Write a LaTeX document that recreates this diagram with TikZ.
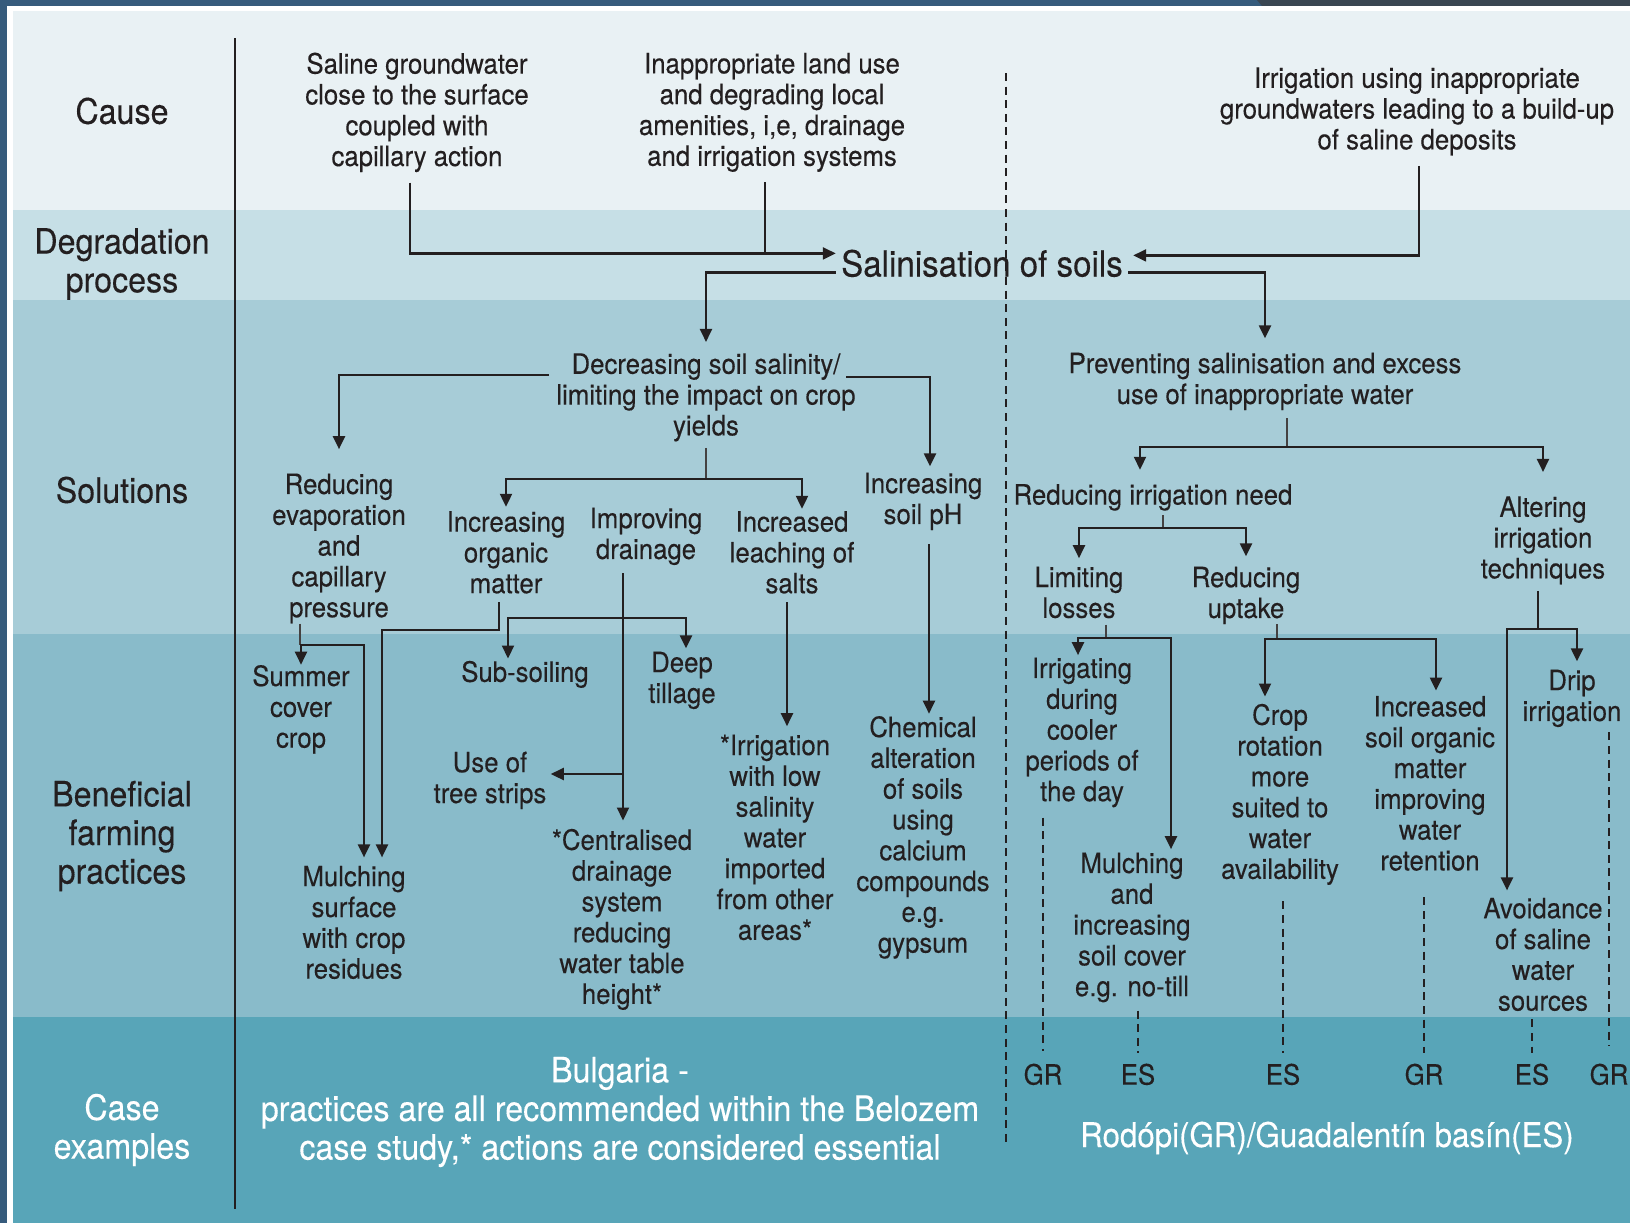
\documentclass[tikz,border=0pt]{standalone}
\usepackage{fontspec}
\setmainfont[FakeStretch=0.92,FakeBold=0.25]{TeX Gyre Heros}
\usetikzlibrary{arrows.meta}
\definecolor{ink}{HTML}{231F20}
\definecolor{frame}{HTML}{365B7C}
\definecolor{frametex}{HTML}{3A4652}
\definecolor{bandA}{HTML}{E9F1F4}
\definecolor{bandB}{HTML}{C6DFE6}
\definecolor{bandC}{HTML}{A7CCD7}
\definecolor{bandD}{HTML}{89BBCA}
\definecolor{bandE}{HTML}{58A5B8}
\newcommand\fbody{\fontsize{14pt}{15.4pt}\selectfont}
\newcommand\flab{\fontsize{17.5pt}{19.3pt}\selectfont}
\newcommand\fsal{\fontsize{18pt}{20pt}\selectfont}
\newcommand\freg{\fontsize{17pt}{19pt}\selectfont}

\begin{document}
\begin{tikzpicture}[x=0.5pt,y=-0.5pt,
  txt/.style={font=\fbody, align=center, inner sep=0pt, text=ink, yshift=-1.2pt},
  lab/.style={font=\flab, align=center, inner sep=0pt, text=ink, yshift=-2.5pt},
  ln/.style={draw=ink, line width=1.1pt},
  stub/.style={draw=ink!85, line width=0.75pt},
  arr/.style={ln, -{Triangle[length=6.5pt,width=6pt]}},
  dsh/.style={draw=ink, line width=0.8pt, dash pattern=on 4pt off 2.8pt}]

\useasboundingbox (0,0) rectangle (1630,1223);

% frame and horizontal bands
\fill[frame] (0,0) rectangle (1630,1223);
\fill[frametex] (1257,0) -- (1630,0) -- (1630,6) -- (1262,6) -- cycle;
\fill[white] (7,6) rectangle (1630,1223);
\fill[bandA] (13,11) rectangle (1630,210);
\fill[bandB] (13,210) rectangle (1630,300);
\fill[bandC] (13,300) rectangle (1630,634);
\fill[bandD] (13,634) rectangle (1630,1017);
\fill[bandE] (13,1017) rectangle (1630,1223);

% dividers
\draw[ink, line width=1pt] (235,38) -- (235,1209);
\draw[dsh] (1006,73) -- (1006,1143);

% row labels
\node[lab, yshift=3pt] (cause) at (122,112) {Cause};
\node[lab] (degr) at (122,259) {Degradation\\process};
\node[lab, yshift=3pt] (solu) at (122,491) {Solutions};
\node[lab] (bene) at (122,831) {Beneficial\\farming\\practices};
\node[lab, text=white] (casex) at (122,1125) {Case\\examples};

% causes
\node[txt] (c1) at (417,110) {Saline groundwater\\close to the surface\\coupled with\\capillary action};
\node[txt] (c2) at (772,110) {Inappropriate land use\\and degrading local\\amenities, i,e, drainage\\and irrigation systems};
\node[txt] (c3) at (1417,109) {Irrigation using inappropriate\\groundwaters leading to a build-up\\of saline deposits};

% degradation process
\node[txt, font=\fsal] (sal) at (982,261) {Salinisation of soils};

% solutions
\node[txt] (dec) at (706,395) {Decreasing soil salinity/\\limiting the impact on crop\\yields};
\node[txt] (red) at (339,546) {Reducing\\evaporation\\and\\capillary\\pressure};
\node[txt] (incorg) at (506,550) {Increasing\\organic\\matter};
\node[txt] (impdr) at (646,534) {Improving\\drainage};
\node[txt] (incl) at (792,550) {Increased\\leaching of\\salts};
\node[txt] (incph) at (923,499) {Increasing\\soil pH};
\node[txt] (prev) at (1265,379) {Preventing salinisation and excess\\use of inappropriate water};
\node[txt] (rin) at (1153,495) {Reducing irrigation need};
\node[txt] (alt) at (1543,538) {Altering\\irrigation\\techniques};
\node[txt] (lim) at (1079,590) {Limiting\\losses};
\node[txt] (rup) at (1246,593) {Reducing\\uptake};

% beneficial farming practices
\node[txt] (summer) at (301,707) {Summer\\cover\\crop};
\node[txt] (mulch1) at (354,920) {Mulching\\surface\\with crop\\residues};
\node[txt] (subs) at (525,672) {Sub-soiling};
\node[txt] (deep) at (682,678) {Deep\\tillage};
\node[txt] (tree) at (490,778) {Use of\\tree strips};
\node[txt] (cent) at (622,917) {*Centralised\\drainage\\system\\reducing\\water table\\height*};
\node[txt] (irr) at (775,835) {*Irrigation\\with low\\salinity\\water\\imported\\from other\\areas*};
\node[txt] (chem) at (923,835) {Chemical\\alteration\\of soils\\using\\calcium\\compounds\\e.g.\\gypsum};
\node[txt] (irrg) at (1082,730) {Irrigating\\during\\cooler\\periods of\\the day};
\node[txt] (mulch2) at (1132,925) {Mulching\\and\\increasing\\soil cover\\e.g. no-till};
\node[txt] (crop) at (1280,792) {Crop\\rotation\\more\\suited to\\water\\availability};
\node[txt] (incsoil) at (1430,781) {Increased\\soil organic\\matter\\improving\\water\\retention};
\node[txt] (drip) at (1572,696) {Drip\\irrigation};
\node[txt] (avoid) at (1543,952) {Avoidance\\of saline\\water\\sources};

% case examples
\node[txt] (gr1) at (1043,1072) {GR};
\node[txt] (es1) at (1138,1072) {ES};
\node[txt] (es2) at (1283,1072) {ES};
\node[txt] (gr2) at (1424,1072) {GR};
\node[txt] (es3) at (1532,1072) {ES};
\node[txt] (gr3) at (1609,1072) {GR};
\node[lab, text=white] (bul) at (620,1107) {Bulgaria -\\practices are all recommended within the Belozem\\case study,* actions are considered essential};
\node[lab, font=\freg, text=white, yshift=2pt] (rod) at (1327,1137) {Rodópi(GR)/Guadalentín basín(ES)};

% causes -> salinisation
\path ([yshift=5pt]sal.west) coordinate (salW);
\draw[arr, shorten <=5pt, shorten >=2.5pt] ([xshift=-3.5pt]c1.south) |- (salW);
\draw[ln, shorten <=5pt] ([xshift=-3.5pt]c2.south) -- ([xshift=-3.5pt]c2.south |- salW);
\draw[arr, shorten <=5pt, shorten >=5pt] ([xshift=1pt]c3.south) |- ([yshift=4pt]sal.east);

% salinisation -> solution groups
\draw[arr, shorten >=5.5pt] ([xshift=-2.5pt,yshift=-4.5pt]sal.west) -| (dec.north);
\draw[arr, shorten >=7pt] ([xshift=2.5pt,yshift=-4.5pt]sal.east) -| (prev.north);

% decreasing salinity branch
\coordinate (decL) at (549,375);
\coordinate (decR) at (846,377);
\draw[arr, shorten >=12pt] (decL) -| (red.north);
\draw[arr, shorten >=3pt] (decR) -| ([xshift=3.5pt]incph.north);
\coordinate (dJ) at (dec.south |- 0,479);
\draw[stub, shorten <=3pt] (dec.south) -- (dJ);
\draw[arr, shorten >=2pt] (dJ) -| (incorg.north);
\draw[arr, shorten >=1pt] (dJ) -| ([xshift=5pt]incl.north);

% preventing salinisation branch
\coordinate (pJ) at ([xshift=11pt]prev.south |- 0,447);
\draw[stub, shorten <=4pt] ([xshift=11pt]prev.south) -- (pJ);
\draw[arr, shorten >=7pt] (pJ) -| ([xshift=-6.5pt]rin.north);
\draw[arr, shorten >=12pt] (pJ) -| (alt.north);
\coordinate (rJ) at ([xshift=5pt]rin.south |- 0,528);
\draw[stub, shorten <=2pt] ([xshift=5pt]rin.south) -- (rJ);
\draw[arr, shorten >=4pt] (rJ) -| (lim.north);
\draw[arr, shorten >=5pt] (rJ) -| (rup.north);

% solutions -> practices (left)
\coordinate (eJ) at ([xshift=-19.5pt]red.south |- 0,645);
\draw[stub] ([xshift=-19.5pt]red.south) -- (eJ);
\draw[arr] (eJ) -| (summer.north);
\draw[arr, shorten >=4pt] (eJ) -| ([xshift=5pt]mulch1.north);
\coordinate (oJ) at ([xshift=-3.5pt]incorg.south |- 0,630);
\draw[arr, shorten <=4pt, shorten >=4pt] ([xshift=-3.5pt]incorg.south) -- (oJ) -| ([xshift=14pt]mulch1.north);
\coordinate (iT) at ([xshift=-11.5pt]impdr.south);
\draw[arr, shorten <=4pt, shorten >=4pt] (iT) -- (iT |- cent.north);
\coordinate (sJ) at (iT |- 0,618);
\draw[arr, shorten >=1pt] (sJ) -| ([xshift=-8.5pt]subs.north);
\draw[arr, shorten >=1.5pt] (sJ) -| ([xshift=2pt]deep.north);
\coordinate (tJ) at (iT |- 0,774);
\draw[arr, shorten >=2pt] (tJ) -- (tJ -| tree.east);
\draw[arr, shorten <=4pt, shorten >=4pt] ([xshift=-2.5pt]incl.south) -- ([xshift=-2.5pt]incl.south |- irr.north);
\draw[arr, shorten <=7pt, shorten >=1pt] ([xshift=3pt]incph.south) -- ([xshift=3pt]incph.south |- chem.north);

% solutions -> practices (right)
\coordinate (lJ) at ([xshift=13.5pt]lim.south |- 0,638);
\draw[stub, shorten <=3pt] ([xshift=13.5pt]lim.south) -- (lJ);
\draw[arr, shorten >=1pt] (lJ) -| ([xshift=-2pt]irrg.north);
\draw[arr, shorten >=1.5pt] (lJ) -| ([xshift=19.5pt]mulch2.north);
\coordinate (uJ) at ([xshift=15.5pt]rup.south |- 0,639);
\draw[stub] ([xshift=15.5pt]rup.south) -- (uJ);
\draw[arr, shorten >=3.5pt] (uJ) -| ([xshift=-7.5pt]crop.north);
\draw[arr, shorten >=2.5pt] (uJ) -| ([xshift=3pt]incsoil.north);
\coordinate (aJ) at ([xshift=-2.5pt]alt.south |- 0,629);
\draw[ln, shorten <=3pt] ([xshift=-2.5pt]alt.south) -- (aJ);
\draw[arr, shorten >=4pt] (aJ) -| ([xshift=2.5pt]drip.north);
\draw[arr, shorten >=3.5pt] (aJ) -| ([xshift=-18pt]avoid.north);

% practices -> case study regions
\draw[dsh, shorten <=5pt, shorten >=6pt] (gr1.north |- irrg.south) -- (gr1.north);
\draw[dsh, shorten <=4pt, shorten >=5pt] (es1.north |- mulch2.south) -- (es1.north);
\draw[dsh, shorten <=8pt, shorten >=5pt] (es2.north |- crop.south) -- (es2.north);
\draw[dsh, shorten <=13pt, shorten >=5pt] (gr2.north |- incsoil.south) -- (gr2.north);
\draw[dsh, shorten <=4pt, shorten >=5pt] (es3.north |- avoid.south) -- (es3.north);
\draw[dsh, shorten <=2.5pt, shorten >=9pt] (gr3.north |- drip.south) -- (gr3.north);

\end{tikzpicture}
\end{document}
